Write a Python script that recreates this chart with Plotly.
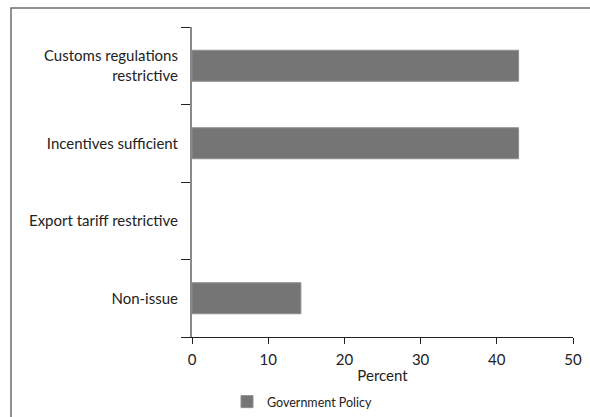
import plotly.graph_objects as go

categories = ["Customs regulations<br>restrictive", "Incentives sufficient", "Export tariff restrictive", "Non-issue"]
values = [42.86, 42.86, 0, 14.29]
series_name = "Government Policy"
x_ticks = [0, 10, 20, 30, 40, 50]

fig = go.Figure()
fig.add_trace(go.Bar(
    y=categories, x=values, orientation="h", name=series_name,
    marker=dict(color="#757575",
                line=dict(color="#8e8e8e", width=[1 if v > 0 else 0 for v in values])),
    width=0.4, showlegend=True,
))

L, R, T, B = 192, 17, 27, 80
W, H = 590, 417
pw, ph = W - L - R, H - T - B

def px(x):
    return (x - L) / pw

def py(y):
    return (H - B - y) / ph

fig.update_layout(
    width=W, height=H,
    margin=dict(l=L, r=R, t=T, b=B, autoexpand=False),
    paper_bgcolor="white", plot_bgcolor="white",
    font=dict(family="Lato, Open Sans, sans-serif", size=15, color="#222"),
    xaxis=dict(range=[0, 50], tickvals=x_ticks, showgrid=False, zeroline=False,
               showline=True, linecolor="#222", linewidth=1, automargin=False,
               ticks="outside", ticklen=6, tickcolor="#222", ticklabelstandoff=3,
               title=dict(text="Percent", standoff=3, font=dict(size=15))),
    yaxis=dict(categoryorder="array", categoryarray=categories[::-1], automargin=False,
               showgrid=False, zeroline=False, showline=True, linecolor="#888", linewidth=2,
               ticks="outside", ticklen=9, tickcolor="#222", tickson="boundaries",
               ticklabelstandoff=9),
    legend=dict(orientation="h", x=px(227), y=py(387), xanchor="left", yanchor="top",
                font=dict(size=12.5), itemwidth=30),
    showlegend=True,
    shapes=[dict(type="rect", xref="paper", yref="paper",
                 x0=px(11), x1=px(600), y0=py(430), y1=py(8),
                 line=dict(color="#6e6e6e", width=1.5), fillcolor="rgba(0,0,0,0)", layer="below")],
)

fig.write_html("out.html", config={"displayModeBar": False},
               post_script="document.body.style.margin='0px';document.body.style.overflow='hidden';")
